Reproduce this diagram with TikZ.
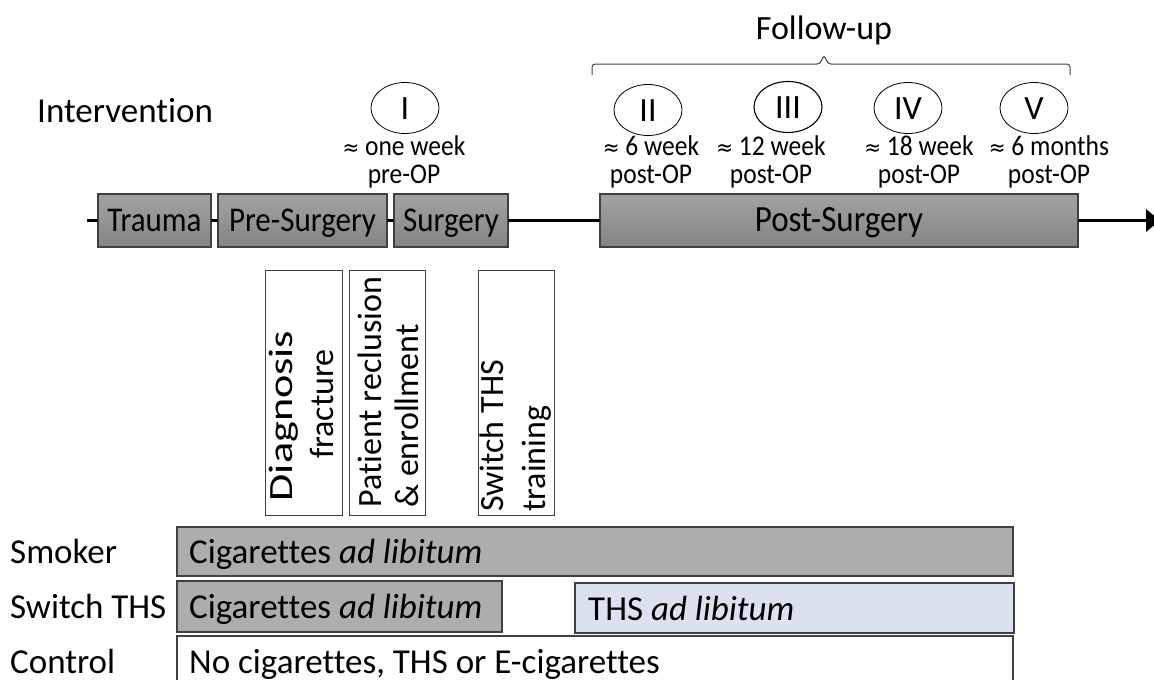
\documentclass[tikz,border=0pt]{standalone}
\usepackage{fontspec}
\setmainfont{Carlito}[Ligatures={NoCommon}]
\newfontfamily\symfont{DejaVu Sans}
\usetikzlibrary{arrows.meta,shapes.geometric}
\definecolor{phasetop}{RGB}{162,162,162}
\definecolor{phasebot}{RGB}{132,132,132}
\definecolor{edgegray}{RGB}{64,64,64}
\definecolor{barfill}{RGB}{174,173,171}
\definecolor{thsfill}{RGB}{219,225,239}
\newcommand\tallt[1]{\scalebox{1}[1.12]{#1}}
\newcommand\apx{{\symfont\fontsize{20}{25}\selectfont ≈}}
\newcommand\twoline[2]{\tallt{\begin{tabular}{@{}c@{}}#1\\#2\end{tabular}}}
\begin{document}
\begin{tikzpicture}[x=1pt,y=-1pt,
  phase/.style={draw=edgegray, line width=1.2pt, top color=phasetop, bottom color=phasebot,
    inner sep=0pt, outer sep=0pt, anchor=north west, text height=22pt, text depth=0pt,
    font=\fontsize{31}{31}\selectfont},
  visit/.style={draw=black, line width=0.8pt, ellipse, minimum width=68, minimum height=51,
    inner sep=0pt, text height=22pt, text depth=0pt, font=\fontsize{34}{34}\selectfont},
  when/.style={align=center, inner sep=0pt, font=\fontsize{25.5}{25}\selectfont},
  vbox/.style={draw=edgegray, line width=1pt, fill=white, inner sep=0pt, outer sep=0pt, anchor=north west},
  vtext/.style={rotate=90, inner sep=0pt, font=\fontsize{34}{34}\selectfont},
  bar/.style={draw=edgegray, line width=1.2pt, inner sep=0pt, outer sep=0pt, anchor=north west},
  bartext/.style={anchor=base west, inner sep=0pt, font=\fontsize{35}{35}\selectfont},
  rowlabel/.style={anchor=base west, inner sep=0pt, font=\fontsize{35}{35}\selectfont},
  timeline/.style={line width=3.5pt}
]
\useasboundingbox (0,0) rectangle (1154,680);

% timeline phases
\node[phase, minimum width=113, minimum height=53] (trauma) at (98,194) {\tallt{Trauma}};
\node[phase, minimum width=169, minimum height=53] (pre) at (218,194) {\tallt{Pre-Surgery}};
\node[phase, minimum width=114, minimum height=53] (surg) at (394,194) {\tallt{Surgery}};
\node[phase, minimum width=478, minimum height=53, font=\fontsize{33}{33}\selectfont] (post) at (600,194) {\tallt{Post-Surgery}};
\coordinate (tlstart) at (87,220.5);
\coordinate (tlend) at (1160,220.5);
\draw[timeline] (tlstart) -- (trauma.west);
\draw[timeline] (trauma.east) -- (pre.west);
\draw[timeline] (pre.east) -- (surg.west);
\draw[timeline] (surg.east) -- (post.west);
\draw[timeline, -{Triangle[length=14pt,width=22pt]}] (post.east) -- (tlend);

% intervention
\node[anchor=base west, inner sep=0pt, font=\fontsize{35}{35}\selectfont] (interv) at (37,122) {Intervention};

% visits
\node[visit] (v1) at (405,108) {I};
\node[visit] (v2) at (648,110) {II};
\node[visit, line width=1.1pt] (v3) at (788,107) {III};
\node[visit] (v4) at (908,108) {IV};
\node[visit] (v5) at (1034,108) {V};

\node[when] (w1) at (404,164) {\twoline{\apx{} one week}{pre-OP}};
\node[when] (w2) at (651,164) {\twoline{\apx{} 6 week}{post-OP}};
\node[when] (w3) at (771,164) {\twoline{\apx{} 12 week}{post-OP}};
\node[when] (w4) at (919,164) {\twoline{\apx{} 18 week}{post-OP}};
\node[when] (w5) at (1049,164) {\twoline{\apx{} 6 months}{post-OP}};

% follow-up brace
\coordinate (brl) at (592,75);
\coordinate (brr) at (1070,75);
\coordinate (brtip) at (824,55);
\draw[edgegray, line width=1pt, rounded corners=3pt]
  (brl) |- (820,64) -- (brtip) -- (828,64) -| (brr);
\node[anchor=base, inner sep=0pt, font=\fontsize{34}{34}\selectfont] (fu) at (824,39) {Follow-up};

% vertical boxes
\node[vbox, minimum width=77, minimum height=245] (diag) at (265,270) {};
\node[vbox, minimum width=76, minimum height=245] (pat) at (349,270) {};
\node[vbox, minimum width=76, minimum height=245] (sw) at (478,270) {};
\node[vtext] (diag1) at (284,416) {\scalebox{1.3}[1]{Diagnosis}};
\node[vtext] (diag2) at (322,404) {fracture};
\node[vtext, anchor=west] (pat1) at (370,508) {Patient reclusion};
\node[vtext, anchor=west] (pat2) at (407,508) {\& enrollment};
\node[vtext, anchor=west] (sw1) at (492,512) {Switch THS};
\node[vtext, anchor=west] (sw2) at (537,512) {training};

% groups
\node[bar, fill=barfill, minimum width=836, minimum height=49] (smk) at (177,527) {};
\node[bar, fill=barfill, minimum width=325, minimum height=51] (swcig) at (177,581) {};
\node[bar, fill=thsfill, minimum width=439, minimum height=50] (ths) at (575,583) {};
\node[bar, fill=white, minimum width=836, minimum height=60] (ctl) at (177,636) {};

\node[rowlabel] (lsmk) at (10,563) {Smoker};
\node[rowlabel] (lsw) at (10,618) {Switch THS};
\node[rowlabel] (lctl) at (10,673) {Control};

\node[bartext] (tsmk) at (189,563) {Cigarettes \textit{ad libitum}};
\node[bartext] (tswcig) at (189,618) {Cigarettes \textit{ad libitum}};
\node[bartext] (tths) at (588,620) {THS \textit{ad libitum}};
\node[bartext] (tctl) at (189,673) {No cigarettes, THS or E-cigarettes};
\end{tikzpicture}
\end{document}
